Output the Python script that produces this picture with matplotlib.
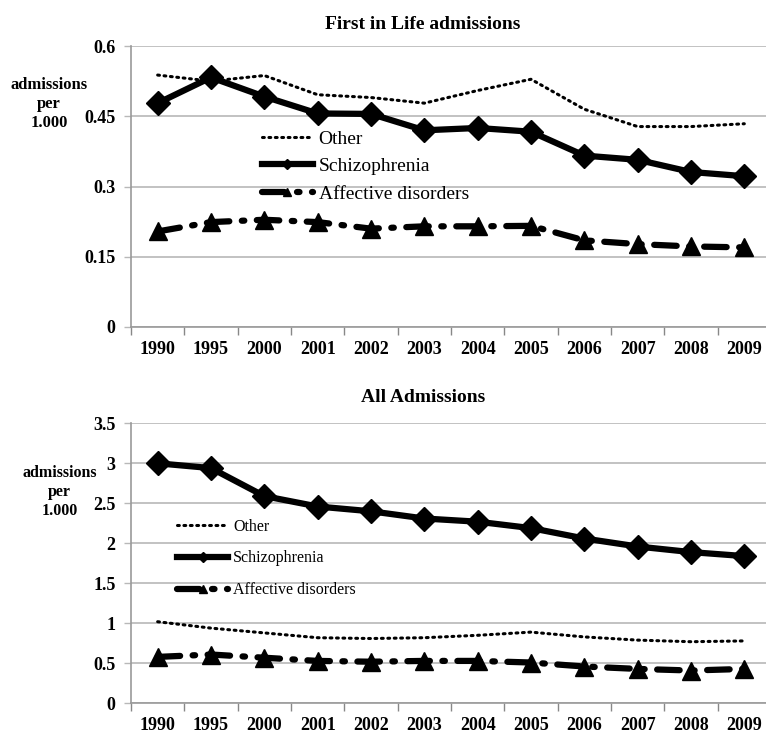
import matplotlib
matplotlib.use("Agg")
import matplotlib.pyplot as plt
from matplotlib.ticker import FixedLocator, NullFormatter

plt.rcParams['font.family'] = ['Liberation Serif', 'DejaVu Serif']

years = ["1990", "1995", "2000", "2001", "2002", "2003",
         "2004", "2005", "2006", "2007", "2008", "2009"]

# first in life admissions, per 1.000
first_other = [0.538, 0.525, 0.537, 0.496, 0.490, 0.478,
               0.505, 0.529, 0.465, 0.428, 0.428, 0.434]
first_schizo = [0.478, 0.533, 0.492, 0.456, 0.455, 0.420,
                0.425, 0.417, 0.366, 0.357, 0.331, 0.322]
first_affective = [0.204, 0.224, 0.229, 0.224, 0.210, 0.215,
                   0.215, 0.216, 0.185, 0.177, 0.172, 0.170]

# all admissions, per 1.000
all_other = [1.02, 0.94, 0.88, 0.82, 0.81, 0.82,
             0.85, 0.89, 0.83, 0.79, 0.77, 0.78]
all_schizo = [3.00, 2.94, 2.59, 2.46, 2.40, 2.31,
              2.27, 2.19, 2.06, 1.96, 1.89, 1.84]
all_affective = [0.58, 0.61, 0.57, 0.53, 0.52, 0.53,
                 0.53, 0.51, 0.46, 0.43, 0.41, 0.43]

labels = ["Other", "Schizophrenia", "Affective disorders"]
unit_lines = ["admissions", "per", "1.000"]

GRID = "#b8b8b8"


def draw_panel(ax, other, schizo, affective, yticks, ylabels, leg):
    """one panel of the figure"""
    x = list(range(len(years)))
    ax.plot(x, other, color="black", lw=2.2, linestyle=(0, (0.6, 1.5)),
            dash_capstyle="round", label=labels[0], zorder=3)
    ax.plot(x, schizo, color="black", lw=4.5, marker="D", markersize=12,
            label=labels[1], zorder=4)
    ax.plot(x, affective, color="black", lw=4.5, marker="^", markersize=13,
            linestyle=(0, (3.6, 2.0, 0.4, 2.0)), dash_capstyle="round",
            label=labels[2], zorder=4)

    ax.set_xlim(-0.5, len(years) - 0.5)
    ax.set_ylim(yticks[0], yticks[-1])
    ax.set_yticks(yticks)
    ax.set_yticklabels(ylabels, fontsize=13, fontweight="bold")
    ax.set_xticks(x)
    ax.set_xticklabels(years, fontsize=13, fontweight="bold")
    ax.xaxis.set_minor_locator(FixedLocator([i - 0.5 for i in range(len(years) + 1)]))
    ax.xaxis.set_minor_formatter(NullFormatter())
    ax.tick_params(axis="x", which="major", length=0, pad=10)
    ax.tick_params(axis="x", which="minor", length=6, color="#888888", width=1)
    ax.tick_params(axis="y", length=5, color=GRID, width=1, pad=6)
    ax.grid(axis="y", color=GRID, lw=1.2)
    ax.set_axisbelow(True)
    for side in ("top", "right"):
        ax.spines[side].set_visible(False)
    for side in ("left", "bottom"):
        ax.spines[side].set_color("#999999")
        ax.spines[side].set_linewidth(1.2)

    lg = ax.legend(loc="upper left", bbox_to_anchor=leg["anchor"], frameon=False,
                   borderpad=0, borderaxespad=0, handlelength=leg["hl"],
                   handletextpad=0.3, labelspacing=leg["ls"], markerscale=0.45,
                   numpoints=1, prop={"size": leg["size"]})
    return lg


def unit_label(fig, x, y_top, size, step):
    """the 'admissions per 1.000' label, one line at a time"""
    for i, line in enumerate(unit_lines):
        fig.text(x, y_top - i * step, line, ha="center", va="center",
                 fontsize=size, fontweight="bold")


fig = plt.figure(figsize=(7.66, 7.34), dpi=100)
ax1 = fig.add_axes([0.171, 0.5545, 0.8355, 0.3828])
ax2 = fig.add_axes([0.171, 0.0418, 0.8355, 0.3815])

draw_panel(ax1, first_other, first_schizo, first_affective,
           [0, 0.15, 0.3, 0.45, 0.6], ["0", "0.15", "0.3", "0.45", "0.6"],
           {"anchor": (0.205, 0.70), "hl": 2.6, "ls": 0.5, "size": 14})
draw_panel(ax2, all_other, all_schizo, all_affective,
           [0, 0.5, 1, 1.5, 2, 2.5, 3, 3.5],
           ["0", "0.5", "1", "1.5", "2", "2.5", "3", "3.5"],
           {"anchor": (0.072, 0.66), "hl": 3.2, "ls": 1.0, "size": 11.5})

fig.text(0.552, 0.967, "First in Life admissions", ha="center", va="center",
         fontsize=14, fontweight="bold")
fig.text(0.552, 0.458, "All Admissions", ha="center", va="center",
         fontsize=14, fontweight="bold")
unit_label(fig, 0.064, 0.884, 12, 0.0255)
unit_label(fig, 0.078, 0.356, 11.5, 0.026)

fig.savefig("out.png", dpi=100)
